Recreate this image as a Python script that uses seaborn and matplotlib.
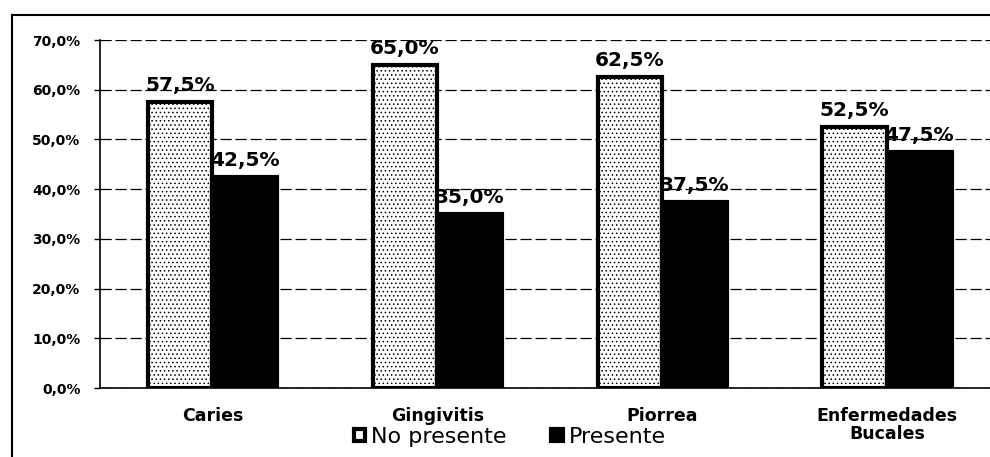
import matplotlib
matplotlib.use("Agg")
import matplotlib.pyplot as plt
from matplotlib.patches import Rectangle
from matplotlib.ticker import FuncFormatter
import pandas as pd
import seaborn as sns

# Prevalencia de enfermedades bucales (%)
categorias = ["Caries", "Gingivitis", "Piorrea", "Enfermedades\nBucales"]
series = ["No presente", "Presente"]
no_presente = [57.5, 65.0, 62.5, 52.5]
presente = [42.5, 35.0, 37.5, 47.5]
y_ticks = [0, 10, 20, 30, 40, 50, 60, 70]

df = pd.DataFrame({
    "categoria": categorias * 2,
    "porcentaje": no_presente + presente,
    "estado": [series[0]] * len(categorias) + [series[1]] * len(categorias),
})


def pct(v):
    return f"{v:.1f}%".replace(".", ",")


sns.set_theme(style="white")
plt.rcParams["font.family"] = ["DejaVu Sans"]
plt.rcParams["hatch.linewidth"] = 0.6

fig = plt.figure(figsize=(9.9, 4.57), dpi=100)
ax = fig.add_axes([100 / 990, 69 / 457, 890 / 990, 348 / 457])

sns.barplot(
    data=df, x="categoria", y="porcentaje", hue="estado",
    hue_order=series, order=categorias,
    palette={series[0]: "white", series[1]: "black"},
    width=0.574, edgecolor="black", linewidth=3, saturation=1,
    ax=ax,
)

# stippled fill for the "No presente" bars
for p in ax.containers[0]:
    p.set_hatch("....")
    if hasattr(p, "set_hatchcolor"):
        p.set_hatchcolor("#8a8a8a")

for cont in ax.containers:
    ax.bar_label(cont, labels=[pct(b.get_height()) for b in cont],
                 padding=5, fontsize=14.5, fontweight="bold", color="black")

ax.set_xlim(-0.5, 3.458)
ax.set_ylim(0, 70)
ax.set_yticks(y_ticks)
ax.yaxis.set_major_formatter(FuncFormatter(lambda v, _: pct(v)))
ax.set_xlabel("")
ax.set_ylabel("")

ax.set_axisbelow(True)
ax.yaxis.grid(True, linestyle=(0, (9, 3)), color="black", linewidth=0.9)
ax.xaxis.grid(False)

for side in ("top", "right"):
    ax.spines[side].set_visible(False)
for side in ("left", "bottom"):
    ax.spines[side].set_color("black")
    ax.spines[side].set_linewidth(1.2)

ax.tick_params(axis="y", left=True, length=4, width=1, color="black",
               pad=10, labelsize=10, labelcolor="black")
ax.tick_params(axis="x", bottom=False, pad=8, labelsize=12.5,
               labelcolor="black")
for t in ax.get_yticklabels() + ax.get_xticklabels():
    t.set_fontweight("bold")
    t.set_linespacing(1.0)

handles, labels = ax.get_legend_handles_labels()
ax.get_legend().remove()
fig.legend(handles, labels, loc="center", bbox_to_anchor=(510 / 990, 20 / 457),
           ncol=2, frameon=False, fontsize=16, labelcolor="black",
           handlelength=0.5, handleheight=0.5, handletextpad=0.3,
           columnspacing=2.0)

# outer chart frame
fig.patches.append(Rectangle((12 / 990, -0.1), 1.2, (457 - 15) / 457 + 0.1,
                             transform=fig.transFigure, fill=False,
                             edgecolor="black", linewidth=1.5))

fig.savefig("out.png", dpi=100)
